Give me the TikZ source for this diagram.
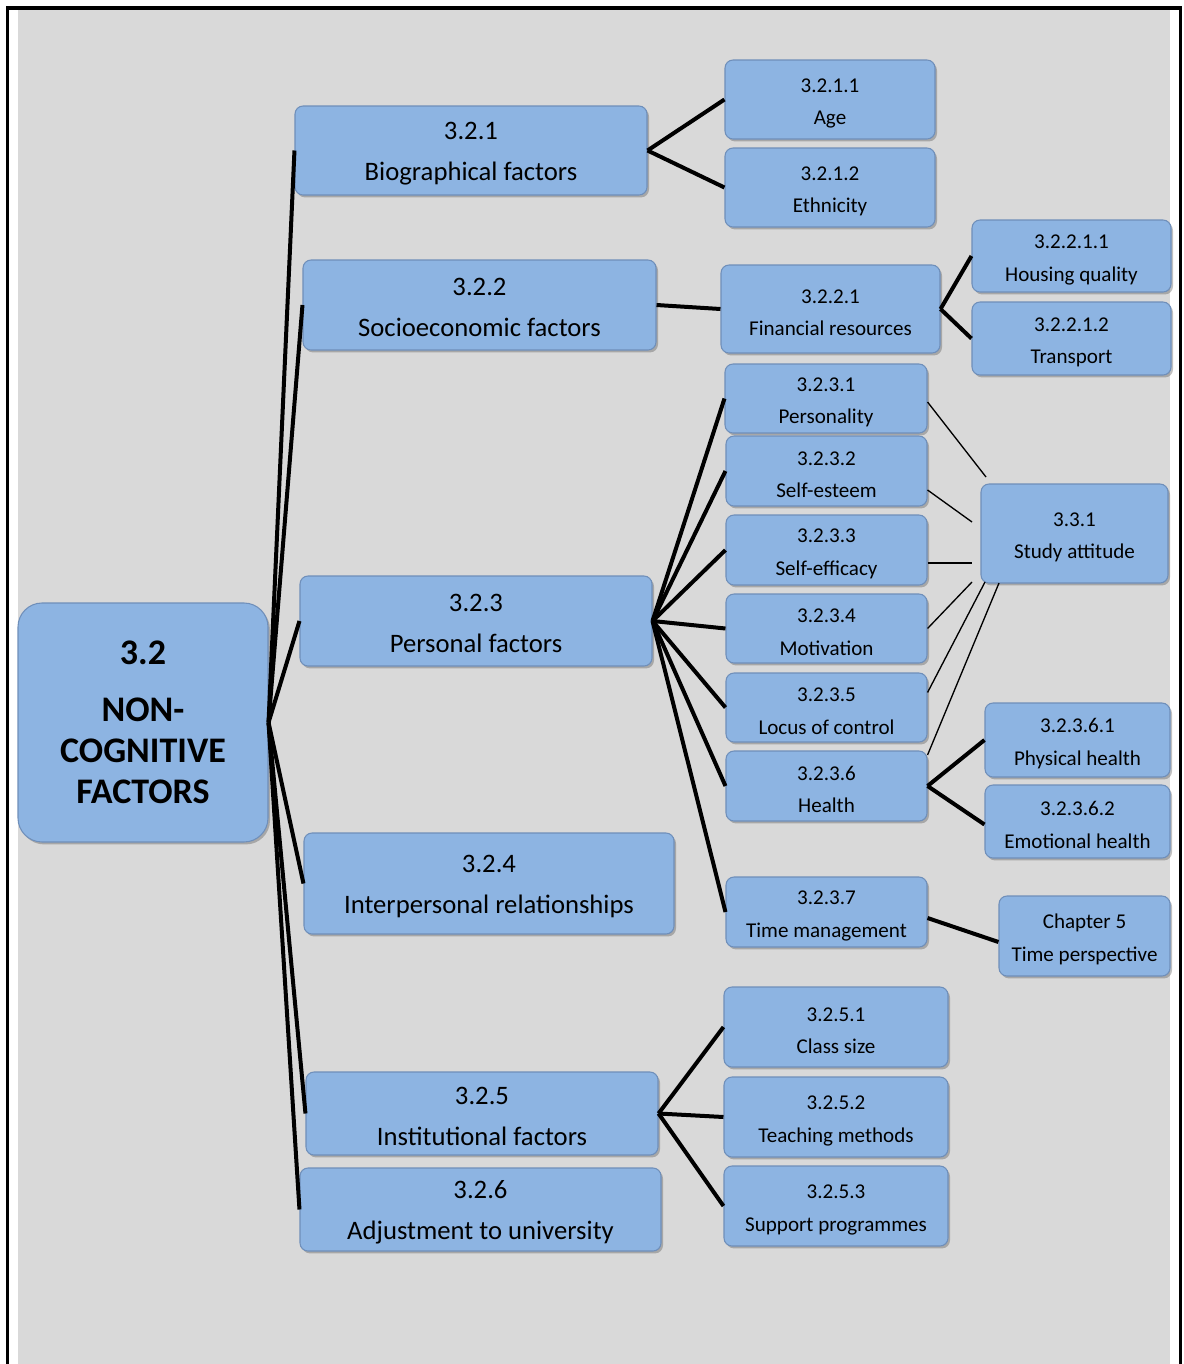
\documentclass[tikz,border=0pt]{standalone}
\usepackage{fontspec}
\setmainfont{Carlito}
\usetikzlibrary{shadows,calc}
\definecolor{boxfill}{HTML}{8DB4E2}
\definecolor{boxline}{HTML}{6F8FBA}
\definecolor{bgrey}{HTML}{D9D9D9}
\newcommand\myBigStrut{\rule{0pt}{17.1pt}}
\newcommand\mySmallStrut{\rule{0pt}{16pt}}
\begin{document}
\begin{tikzpicture}[x=0.75pt,y=-0.75pt,
  box/.style={rectangle, rounded corners=6pt, fill=boxfill, draw=boxline, line width=0.8pt,
    inner sep=0pt, align=center,
    drop shadow={shadow xshift=1.5pt, shadow yshift=-1.8pt, opacity=0.35, fill=black!70}},
  sz/.style 2 args={minimum width=#1*0.75pt, minimum height=#2*0.75pt},
  big/.style={font=\fontsize{20}{30.75}\selectfont},
  small/.style={font=\fontsize{15.8}{24.4}\selectfont},
  heavy/.style={line width=3pt},
  slim/.style={line width=1pt}
]
% background and frame
\fill[white] (0,0) rectangle (1184,1364);
\fill[bgrey] (18,10) rectangle (1170,1364);
\fill[black] (6,6) rectangle (1182,10);
\fill[black] (6,6) rectangle (9,1364);
\fill[black] (1179,6) rectangle (1182,1364);

% root
\node[box, rounded corners=18pt, sz={250}{239}, font=\fontsize{27}{30.75}\selectfont\bfseries]
  (root) at (143,722.5) {3.2\\[12pt]NON-\\COGNITIVE\\FACTORS};

% level 1
\node[box, big, sz={352}{89}]  (n321) at (471,150.5)  {\myBigStrut 3.2.1\\Biographical factors};
\node[box, big, sz={353}{90}]  (n322) at (479.5,305)  {\myBigStrut 3.2.2\\Socioeconomic factors};
\node[box, big, sz={352}{90}]  (n323) at (476,621)    {\myBigStrut 3.2.3\\Personal factors};
\node[box, big, sz={370}{101}] (n324) at (489,883.5)  {\myBigStrut 3.2.4\\Interpersonal relationships};
\node[box, big, sz={352}{83}]  (n325) at (482,1113.5) {\myBigStrut 3.2.5\\Institutional factors};
\node[box, big, sz={361}{83}]  (n326) at (480.5,1209.5) {\myBigStrut 3.2.6\\Adjustment to university};

% level 2 and beyond
\node[box, small, sz={210}{79}] (n3211) at (830,99.5)  {\mySmallStrut 3.2.1.1\\Age};
\node[box, small, sz={210}{79}] (n3212) at (830,187.5) {\mySmallStrut 3.2.1.2\\Ethnicity};
\node[box, small, sz={219}{88}] (n3221) at (830.5,309) {\mySmallStrut 3.2.2.1\\Financial resources};
\node[box, small, sz={199}{72}] (n32211) at (1071.5,256)   {\mySmallStrut 3.2.2.1.1\\Housing quality};
\node[box, small, sz={199}{73}] (n32212) at (1071.5,338.5) {\mySmallStrut 3.2.2.1.2\\Transport};

\node[box, small, sz={202}{69}] (n3231) at (826,398.5)   {\mySmallStrut 3.2.3.1\\Personality};
\node[box, small, sz={201}{70}] (n3232) at (826.5,471)   {\mySmallStrut 3.2.3.2\\Self-esteem};
\node[box, small, sz={201}{70}] (n3233) at (826.5,550)   {\mySmallStrut 3.2.3.3\\Self-efficacy};
\node[box, small, sz={201}{69}] (n3234) at (826.5,628.5) {\mySmallStrut 3.2.3.4\\Motivation};
\node[box, small, sz={201}{69}] (n3235) at (826.5,707.5) {\mySmallStrut 3.2.3.5\\Locus of control};
\node[box, small, sz={201}{70}] (n3236) at (826.5,786)   {\mySmallStrut 3.2.3.6\\Health};
\node[box, small, sz={201}{70}] (n3237) at (826.5,912)   {\mySmallStrut 3.2.3.7\\Time management};

\node[box, small, sz={187}{99}] (n331)   at (1074.5,533.5) {\mySmallStrut 3.3.1\\Study attitude};
\node[box, small, sz={185}{74}] (n32361) at (1077.5,740)   {\mySmallStrut 3.2.3.6.1\\Physical health};
\node[box, small, sz={185}{73}] (n32362) at (1077.5,821.5) {\mySmallStrut 3.2.3.6.2\\Emotional health};
\node[box, small, sz={171}{80}] (ch5)    at (1084.5,936)   {\mySmallStrut Chapter 5\\Time perspective};

\node[box, small, sz={224}{80}] (n3251) at (836,1027) {\mySmallStrut 3.2.5.1\\Class size};
\node[box, small, sz={224}{80}] (n3252) at (836,1117) {\mySmallStrut 3.2.5.2\\Teaching methods};
\node[box, small, sz={224}{80}] (n3253) at (836,1206) {\mySmallStrut 3.2.5.3\\Support programmes};

% heavy connectors
\foreach \t in {n321,n322,n323,n324,n325,n326}
  \draw[heavy] (root.east) -- (\t.west);
\draw[heavy] (n321.east) -- (n3211.west);
\draw[heavy] (n321.east) -- (n3212.west);
\draw[heavy] (n322.east) -- (n3221.west);
\draw[heavy] (n3221.east) -- (n32211.west);
\draw[heavy] (n3221.east) -- (n32212.west);
\foreach \t in {n3231,n3232,n3233,n3234,n3235,n3236,n3237}
  \draw[heavy] (n323.east) -- (\t.west);
\draw[heavy] (n3236.east) -- (n32361.west);
\draw[heavy] (n3236.east) -- ($(n32362.west)+(0,3)$);
\draw[heavy] ($(n3237.east)+(0,6)$) -- ($(ch5.west)+(0,6)$);
\draw[heavy] (n325.east) -- (n3251.west);
\draw[heavy] (n325.east) -- (n3252.west);
\draw[heavy] (n325.east) -- (n3253.west);

% slim connectors to Study attitude
\coordinate (sa1) at (986,477);
\coordinate (sa2) at (972,522);
\coordinate (sa3) at (972,563);
\coordinate (sa4) at (972,582);
\coordinate (sa5) at (985,582);
\coordinate (sa6) at (999,583);
\draw[slim] ($(n3231.east)+(0,3.5)$) -- (sa1);
\draw[slim] ($(n3232.east)+(0,19)$) -- (sa2);
\draw[slim] ($(n3233.east)+(0,13)$) -- (sa3);
\draw[slim] (n3234.east) -- (sa4);
\draw[slim] ($(n3235.east)+(0,-15)$) -- (sa5);
\draw[slim] ($(n3236.east)+(0,-31)$) -- (sa6);
\end{tikzpicture}
\end{document}
